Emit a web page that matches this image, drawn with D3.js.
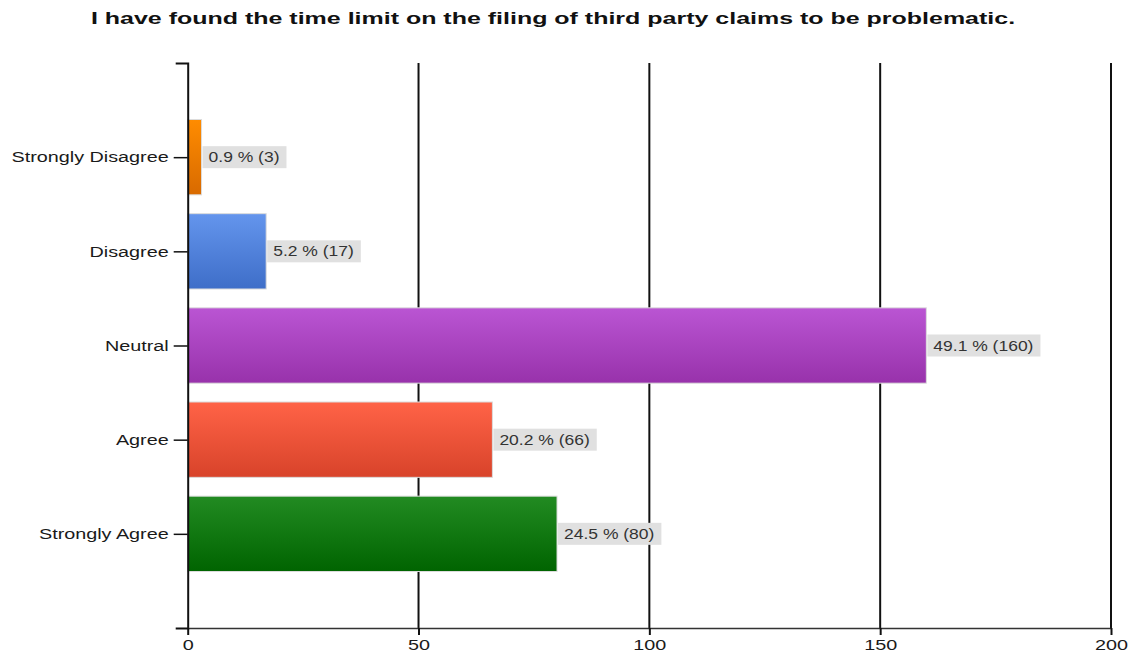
<!DOCTYPE html>
<html>
<head>
<meta charset="utf-8">
<script src="https://cdn.jsdelivr.net/npm/d3@7"></script>
<style>
  html, body { margin: 0; padding: 0; background: #fff; }
  svg { display: block; }
</style>
</head>
<body>
<svg id="chart" width="1134" height="653"></svg>
<script>
// Survey responses
const titleText = "I have found the time limit on the filing of third party claims to be problematic.";
const categories = ["Strongly Disagree", "Disagree", "Neutral", "Agree", "Strongly Agree"];
const counts = [3, 17, 160, 66, 80];
const percents = [0.9, 5.2, 49.1, 20.2, 24.5];
const xTicks = [0, 50, 100, 150, 200];
const topColors = ["#ff8c00", "#6495ed", "#ba55d3", "#ff6347", "#228b22"];
const bottomColors = ["#d86a00", "#3e6ec8", "#9832ab", "#d8432a", "#006400"];

// Text in this chart is drawn slightly wide
const STRETCH = 1.25;
const AXIS_STRETCH = 1.32;
const TITLE_STRETCH = 1.47;

const svg = d3.select("#chart");
const plot = { left: 187.7, right: 1111, top: 63, bottom: 628 };

const x = d3.scaleLinear().domain([0, 200]).range([plot.left, plot.right]);
const y = d3.scalePoint().domain(categories).range([plot.top, plot.bottom]).padding(1);
const barH = y.step() * 0.8;

// Gradients for bar fills
const defs = svg.append("defs");
categories.forEach((c, i) => {
  const g = defs.append("linearGradient")
    .attr("id", "grad" + i).attr("x1", 0).attr("y1", 0).attr("x2", 0).attr("y2", 1);
  g.append("stop").attr("offset", "0%").attr("stop-color", topColors[i]);
  g.append("stop").attr("offset", "100%").attr("stop-color", bottomColors[i]);
});

// Title
svg.append("text")
  .attr("transform", `translate(553,24) scale(${TITLE_STRETCH},1)`)
  .attr("text-anchor", "middle")
  .attr("font-family", "Liberation Sans, Arial, sans-serif")
  .attr("font-weight", "bold")
  .attr("font-size", 17)
  .attr("fill", "#111")
  .text(titleText);

// Vertical grid lines
svg.append("g").selectAll("line")
  .data(xTicks.filter(d => d > 0))
  .join("line")
  .attr("x1", d => x(d)).attr("x2", d => x(d))
  .attr("y1", plot.top).attr("y2", plot.bottom)
  .attr("stroke", "#111").attr("stroke-width", 2);

// Bars
svg.append("g").selectAll("rect")
  .data(categories)
  .join("rect")
  .attr("x", x(0))
  .attr("y", d => y(d) - barH / 2)
  .attr("width", (d, i) => x(counts[i]) - x(0))
  .attr("height", barH)
  .attr("fill", (d, i) => `url(#grad${i})`)
  .attr("stroke", "#dcdcdc")
  .attr("stroke-width", 1);

// Value labels with grey backgrounds
const labels = svg.append("g").selectAll("g")
  .data(categories)
  .join("g")
  .attr("transform", (d, i) => `translate(${x(counts[i]) + 1},${y(d)})`);

labels.each(function(d, i) {
  const g = d3.select(this);
  const rect = g.append("rect").attr("fill", "#e0e0e0");
  const t = g.append("text")
    .attr("transform", `translate(6,0) scale(${STRETCH},1)`)
    .attr("dy", "0.36em")
    .attr("font-family", "Liberation Sans, Arial, sans-serif")
    .attr("font-size", 14)
    .attr("fill", "#333")
    .text(`${percents[i]} % (${counts[i]})`);
  const w = t.node().getComputedTextLength() * STRETCH;
  rect.attr("x", 0).attr("y", -11).attr("width", w + 13).attr("height", 22);
});

// Y axis
const yAxis = svg.append("g")
  .attr("transform", `translate(${plot.left},0)`)
  .call(d3.axisLeft(y).tickSizeInner(14).tickSizeOuter(12));
yAxis.select(".domain").attr("stroke", "#111").attr("stroke-width", 2);
yAxis.selectAll(".tick line").attr("stroke", "#111").attr("stroke-width", 1.5);
yAxis.selectAll(".tick text")
  .attr("x", null)
  .attr("transform", `translate(-19,0) scale(${AXIS_STRETCH},1)`)
  .attr("font-family", "Liberation Sans, Arial, sans-serif")
  .attr("font-size", 15)
  .attr("fill", "#1a1a1a");

// X axis
const xAxis = svg.append("g")
  .attr("transform", `translate(0,${plot.bottom})`)
  .call(d3.axisBottom(x).tickValues(xTicks).tickSizeInner(7).tickSizeOuter(0));
xAxis.select(".domain").attr("stroke", "#333").attr("stroke-width", 1.5);
xAxis.selectAll(".tick line").attr("stroke", "#111").attr("stroke-width", 2);
xAxis.selectAll(".tick text")
  .attr("y", null).attr("dy", null)
  .attr("transform", `translate(0,22) scale(${AXIS_STRETCH},1)`)
  .attr("font-family", "Liberation Sans, Arial, sans-serif")
  .attr("font-size", 15)
  .attr("fill", "#1a1a1a");
</script>
</body>
</html>
